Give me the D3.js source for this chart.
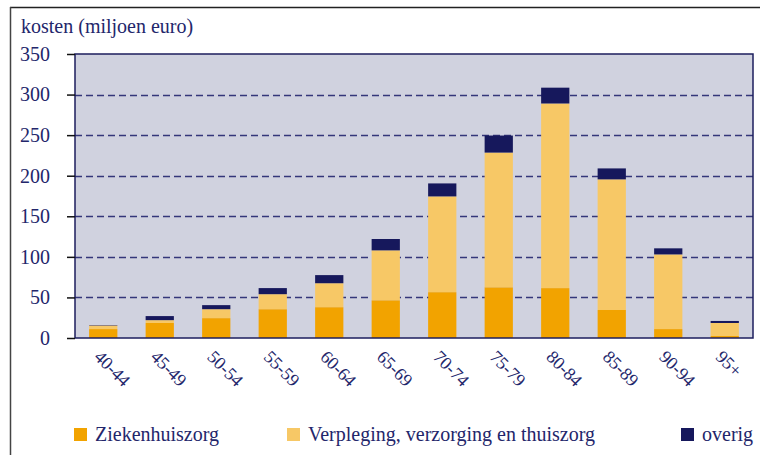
<!DOCTYPE html>
<html>
<head>
<meta charset="utf-8">
<script src="https://cdn.jsdelivr.net/npm/d3@7"></script>
<style>
  body { margin: 0; background: #fff; }
  svg text { font-family: "Liberation Serif", "DejaVu Serif", serif !important; fill: #23266b; }
</style>
</head>
<body>
<div id="chart"></div>
<script>
// Data (miljoen euro).
const ageGroups = ["40-44", "45-49", "50-54", "55-59", "60-64", "65-69", "70-74", "75-79", "80-84", "85-89", "90-94", "95+"];
const ziekenhuis = [11, 18.5, 24.5, 35.5, 38, 46.5, 56.5, 62.5, 61.5, 34.5, 11, 2.5];
const verpleging = [4.5, 3.5, 11, 18.5, 29.5, 61.5, 118, 166, 227.5, 161, 92, 16];
const overig = [0.5, 5, 5, 7.5, 10, 14, 16, 21, 19.5, 13.5, 7.5, 2.5];
const yTicks = [0, 50, 100, 150, 200, 250, 300, 350];

const seriesNames = ["Ziekenhuiszorg", "Verpleging, verzorging en thuiszorg", "overig"];
const colors = ["#f2a300", "#f7c866", "#16185c"];

const W = 760, H = 455;
const margin = { top: 54, right: 7, bottom: 117, left: 75 },
      width = W - margin.left - margin.right,
      height = H - margin.top - margin.bottom;

const svg = d3.select("#chart").append("svg")
    .attr("width", W)
    .attr("height", H);

// Outer frame (top and left only)
svg.append("line").attr("x1", 10).attr("x2", W).attr("y1", 7.5).attr("y2", 7.5)
    .attr("stroke", "#222").attr("stroke-width", 1.5);
svg.append("line").attr("x1", 10.5).attr("x2", 10.5).attr("y1", 7).attr("y2", H)
    .attr("stroke", "#444").attr("stroke-width", 1.5);

const g = svg.append("g")
    .attr("transform", "translate(" + margin.left + "," + margin.top + ")");

// Scales
const x = d3.scaleBand()
    .domain(ageGroups)
    .range([0, width])
    .paddingInner(0.5)
    .paddingOuter(0.25);

const y = d3.scaleLinear()
    .domain([0, 350])
    .range([height, 0]);

// Plot background
g.append("rect")
    .attr("width", width).attr("height", height)
    .attr("fill", "#d0d2df");

// Gridlines
g.selectAll(".grid")
    .data(yTicks.filter(d => d > 0 && d < 350))
  .join("line")
    .attr("class", "grid")
    .attr("x1", 0).attr("x2", width)
    .attr("y1", d => Math.round(y(d)) + 0.5)
    .attr("y2", d => Math.round(y(d)) + 0.5)
    .attr("stroke", "#34377a")
    .attr("stroke-width", 1.3)
    .attr("stroke-dasharray", "7,4");

// Stacked bars
const table = ageGroups.map((a, i) => ({
    age: a, z: ziekenhuis[i], v: verpleging[i], o: overig[i]
}));
const stack = d3.stack().keys(["z", "v", "o"])(table);

g.append("g")
  .selectAll("g")
  .data(stack)
  .join("g")
    .attr("fill", (d, i) => colors[i])
  .selectAll("rect")
  .data(d => d)
  .join("rect")
    .attr("x", d => x(d.data.age))
    .attr("y", d => y(d[1]))
    .attr("width", x.bandwidth())
    .attr("height", d => y(d[0]) - y(d[1]));

// Plot border
g.append("rect")
    .attr("width", width).attr("height", height)
    .attr("fill", "none")
    .attr("stroke", "#1c1e5e")
    .attr("stroke-width", 1.5);

// y-axis
const yAxis = d3.axisLeft(y)
    .tickValues(yTicks)
    .tickSize(8)
    .tickPadding(17);
const yAxisEl = g.append("g").call(yAxis)
    .attr("font-family", null)
    .attr("font-size", null);
yAxisEl.select(".domain").remove();
yAxisEl.selectAll(".tick line").attr("stroke", "#111").attr("stroke-width", 1.5);
yAxisEl.selectAll(".tick text")
    .attr("x", -25)
    .style("font-size", "20px")
    .attr("fill", "#23266b");

// Axis title
svg.append("text")
    .attr("x", 21).attr("y", 33)
    .style("font-size", "20px")
    .text("kosten (miljoen euro)");

// x labels, rotated
g.selectAll(".xlabel")
    .data(ageGroups)
  .join("text")
    .attr("class", "xlabel")
    .style("font-size", "18px")
    .attr("transform", d => "translate(" + (x(d) + x.bandwidth() / 2 - 10) + "," + (height + 20) + ") rotate(45)")
    .text(d => d);

// Legend
const legendX = [74, 287, 681];
const legend = svg.append("g")
  .selectAll("g")
  .data(seriesNames)
  .join("g")
    .attr("transform", (d, i) => "translate(" + legendX[i] + ",428)");
legend.append("rect")
    .attr("width", 13).attr("height", 13)
    .attr("fill", (d, i) => colors[i]);
legend.append("text")
    .attr("x", 21).attr("y", 13)
    .style("font-size", "20px")
    .text(d => d);
</script>
</body>
</html>
